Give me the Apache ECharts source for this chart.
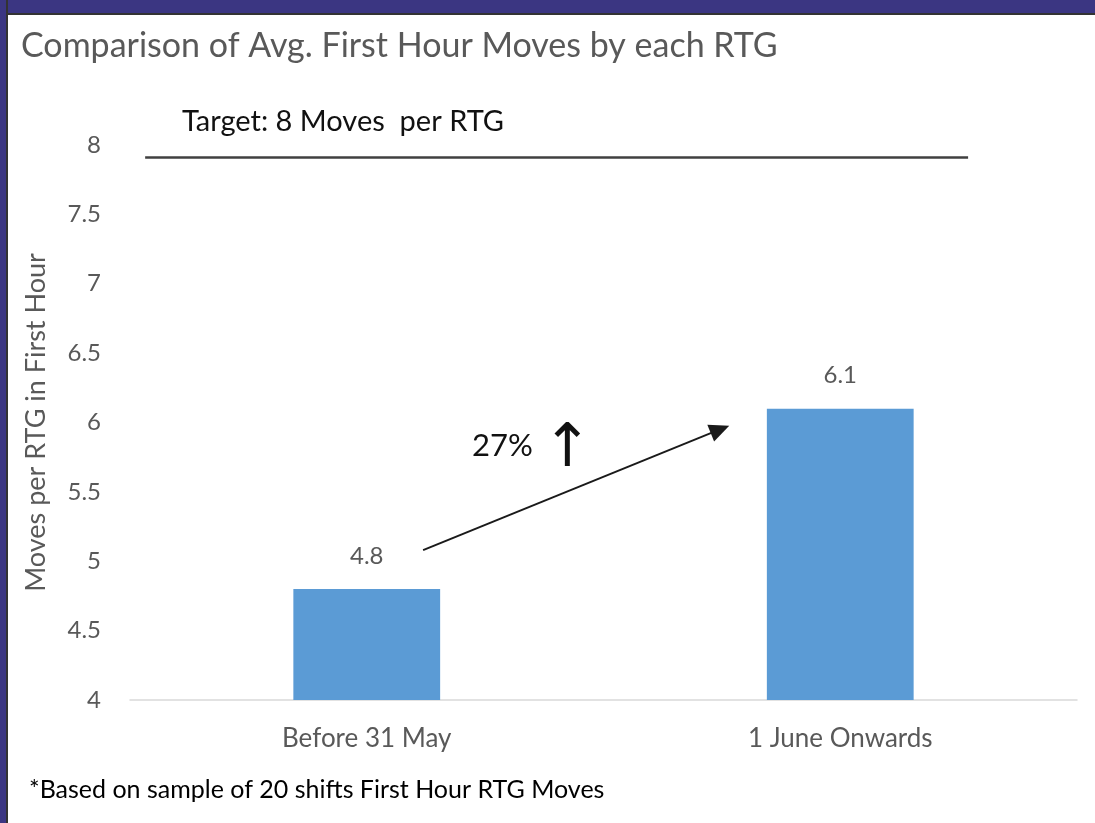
<!DOCTYPE html>
<html>
<head>
<meta charset="utf-8">
<script src="https://cdn.jsdelivr.net/npm/echarts@6/dist/echarts.min.js"></script>
<style>
  html, body { margin: 0; padding: 0; background: #fff; }
  #chart { position: absolute; left: 0; top: 0; width: 1095px; height: 823px; }
  .edge { position: absolute; background: #3b3682; }
</style>
</head>
<body>
<div id="chart"></div>
<div class="edge" style="left:0;top:0;width:1095px;height:13px;border-bottom:2px solid #333;"></div>
<div class="edge" style="left:0;top:0;width:6px;height:823px;border-right:2px solid #333;"></div>
<script>
// chart values
const categories = ['Before 31 May', '1 June Onwards']
const moves = [4.8, 6.1]
const yTicks = [4, 4.5, 5, 5.5, 6, 6.5, 7, 7.5, 8]

// annotations (drawn shapes on the original), in axis units
// x uses a hidden value axis where category i sits at i
const targetLine = [[-0.468, 7.913], [1.27, 7.913]]
const growthArrow = [[0.119, 5.08], [0.746, 5.95]]

const grey = '#595959'
const font = 'Lato'

let chart = echarts.init(document.getElementById('chart'))

let option = {
  animation: false,
  title: {
    text: 'Comparison of Avg. First Hour Moves by each RTG',
    left: 16,
    top: 24,
    textStyle: { fontFamily: font, fontWeight: 'normal', fontSize: 34, color: grey }
  },
  grid: { left: 130, right: 18, top: 145, bottom: 123 },
  xAxis: [{
    type: 'category',
    data: categories,
    axisTick: { show: false },
    axisLine: { lineStyle: { color: '#d9d9d9', width: 1.5 } },
    axisLabel: { color: grey, fontSize: 26, fontFamily: font, margin: 26 }
  }, {
    type: 'value',
    min: -0.5,
    max: 1.5,
    show: false
  }],
  yAxis: {
    type: 'value',
    min: yTicks[0],
    max: yTicks[yTicks.length - 1],
    interval: 0.5,
    name: 'Moves per RTG in First Hour',
    nameLocation: 'middle',
    nameGap: 80,
    nameTextStyle: { color: grey, fontSize: 27, fontFamily: font },
    axisLine: { show: false },
    axisTick: { show: false },
    splitLine: { show: false },
    axisLabel: { color: grey, fontSize: 24, fontFamily: font, margin: 29 }
  },
  series: [{
    type: 'bar',
    data: moves,
    barWidth: '31%',
    itemStyle: { color: '#5b9bd5' },
    label: {
      show: true,
      position: 'top',
      distance: 21,
      color: grey,
      fontSize: 24,
      fontFamily: font
    }
  }, {
    type: 'line',
    xAxisIndex: 1,
    data: [],
    markLine: {
      silent: true,
      animation: false,
      label: { show: false },
      data: [
        [
          { coord: targetLine[0], symbol: 'none', lineStyle: { color: '#404040', width: 2.5, type: 'solid' } },
          { coord: targetLine[1], symbol: 'none' }
        ],
        [
          { coord: growthArrow[0], symbol: 'none', lineStyle: { color: '#1a1a1a', width: 2, type: 'solid' } },
          { coord: growthArrow[1], symbol: 'triangle', symbolSize: [18, 20] }
        ]
      ]
    }
  }],
  graphic: [{
    type: 'text',
    left: 182,
    top: 107,
    style: { text: 'Target: 8 Moves  per RTG', fontSize: 29, fontFamily: font, fill: '#111' }
  }, {
    type: 'text',
    left: 472,
    top: 430,
    style: { text: '27%', fontSize: 31, fontFamily: font, fill: '#111' }
  }, {
    type: 'text',
    left: 542,
    top: 420,
    style: { text: '\u2191', fontSize: 60, fontFamily: 'DejaVu Sans', fill: '#111' }
  }, {
    type: 'text',
    left: 29,
    top: 777,
    style: { text: '*Based on sample of 20 shifts First Hour RTG Moves', fontSize: 25, fontFamily: font, fill: '#000' }
  }]
}

chart.setOption(option)
</script>
</body>
</html>
